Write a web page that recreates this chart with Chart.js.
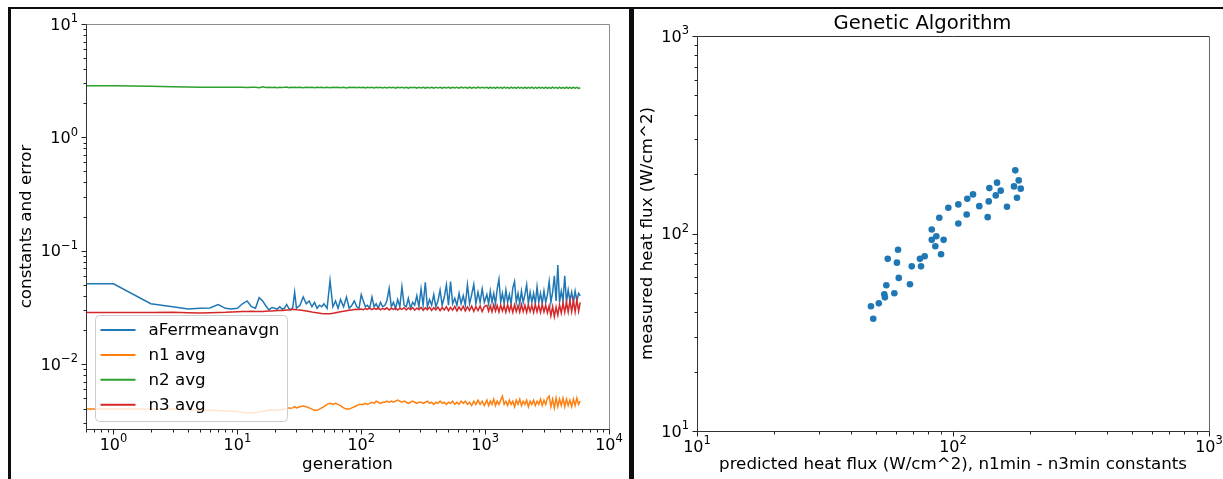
<!DOCTYPE html>
<html>
<head>
<meta charset="utf-8">
<script src="https://cdn.jsdelivr.net/npm/chart.js@4.4.1/dist/chart.umd.min.js"></script>
<style>
  body { margin: 0; background: #fff; }
  #page { position: relative; width: 1223px; height: 479px; overflow: hidden; background: #fff; }
  canvas { position: absolute; top: 0; }
  #leftChart { left: 0; }
  #rightChart { left: 634px; }
  .rule { position: absolute; background: #0b0d10; }
</style>
</head>
<body>
<div id="page">
  <canvas id="leftChart" width="629" height="479"></canvas>
  <canvas id="rightChart" width="589" height="479"></canvas>
  <div class="rule" style="left:8px; top:7px; width:1215px; height:2px"></div>
  <div class="rule" style="left:8px; top:7px; width:3px; height:472px"></div>
  <div class="rule" style="left:629px; top:7px; width:5px; height:472px"></div>
</div>
<script>
// generation axis (first entry stands in for generation 0, which a log axis can't show)
var gens = [0.5,
  1, 2, 3, 4, 5, 6, 7, 8, 9, 10,
  11, 12, 13, 14, 15, 16, 17, 18, 19, 20,
  21, 22, 23, 24, 25, 26, 27, 28, 29, 30,
  32, 34, 36, 38, 40, 42, 44, 46, 48, 50,
  53, 56, 59, 62, 65, 68, 72, 76, 80, 84,
  88, 92, 96, 100,
  104, 108, 112, 117, 122, 127, 132, 137, 143, 149,
  155, 161, 168, 175, 182, 189, 197, 205, 213, 222,
  231, 240, 250, 260, 270, 281, 292, 304, 316, 329,
  342, 356, 370, 385, 400, 416, 433, 450, 468, 487,
  506, 526, 547, 569, 592, 616, 640, 666, 692, 720,
  749, 779, 810, 842, 876, 911, 947, 985,
  1033, 1067, 1101, 1137, 1174, 1213, 1252, 1293, 1336, 1379,
  1424, 1471, 1519, 1569, 1620, 1673, 1728, 1784, 1843, 1903,
  1965, 2029, 2096, 2164, 2235, 2308, 2384, 2462, 2542, 2625,
  2711, 2800, 2891, 2986, 3083, 3184, 3288, 3396, 3507, 3621,
  3740, 3862, 3988, 4119, 4253, 4392, 4536, 4684, 4838, 4996,
  5159, 5328, 5502, 5682, 5860];

var aFerrMean = [0.051,
  0.051, 0.034, 0.032, 0.0305, 0.031, 0.0312, 0.0335, 0.031, 0.0305, 0.031,
  0.034, 0.036, 0.032, 0.031, 0.0385, 0.036, 0.0325, 0.030, 0.0315, 0.031,
  0.0305, 0.032, 0.0305, 0.031, 0.0335, 0.031, 0.030, 0.0315, 0.043, 0.031,
  0.033, 0.039, 0.034, 0.036, 0.032, 0.035, 0.031, 0.033, 0.032, 0.034,
  0.031, 0.0545, 0.032, 0.036, 0.031, 0.037, 0.032, 0.039, 0.031, 0.033,
  0.036, 0.032, 0.031, 0.041,
  0.036, 0.032, 0.033, 0.031, 0.039, 0.032, 0.034, 0.031, 0.035, 0.032,
  0.033, 0.036, 0.0465, 0.032, 0.035, 0.031, 0.037, 0.032, 0.048, 0.033,
  0.032, 0.038, 0.031, 0.035, 0.033, 0.040, 0.032, 0.046, 0.033, 0.0525,
  0.032, 0.037, 0.033, 0.041, 0.032, 0.036, 0.045, 0.033, 0.039, 0.050,
  0.033, 0.0535, 0.034, 0.038, 0.033, 0.042, 0.034, 0.040, 0.033, 0.050,
  0.034, 0.041, 0.0505, 0.034, 0.043, 0.035, 0.046, 0.035,
  0.041, 0.034, 0.044, 0.035, 0.042, 0.034, 0.046, 0.056, 0.035, 0.042,
  0.034, 0.045, 0.035, 0.041, 0.034, 0.047, 0.0535, 0.035, 0.042, 0.034,
  0.044, 0.035, 0.041, 0.050, 0.034, 0.043, 0.035, 0.042, 0.034, 0.048,
  0.035, 0.042, 0.034, 0.044, 0.035, 0.041, 0.0535, 0.035, 0.043, 0.060,
  0.036, 0.0746, 0.035, 0.044, 0.036, 0.060, 0.035, 0.045, 0.036, 0.043,
  0.035, 0.044, 0.036, 0.042, 0.040];

var n1Avg = [0.0040,
  0.0040, 0.0040, 0.0040, 0.00395, 0.0039, 0.0039, 0.00388, 0.00385, 0.00382, 0.0038,
  0.00376, 0.00372, 0.00371, 0.00374, 0.00378, 0.00382, 0.00386, 0.0039, 0.00392, 0.0039,
  0.00392, 0.00394, 0.00396, 0.0040, 0.00405, 0.0041, 0.00408, 0.0041, 0.0042, 0.0041,
  0.0042, 0.00425, 0.0042, 0.0041, 0.0040, 0.0039, 0.0039, 0.0040, 0.0041, 0.0042,
  0.0044, 0.0045, 0.0044, 0.0045, 0.0044, 0.0043, 0.0041, 0.0040, 0.0040, 0.0041,
  0.0042, 0.0043, 0.0044, 0.0044,
  0.0044, 0.0045, 0.0044, 0.0045, 0.0046, 0.0045, 0.0047, 0.0046, 0.0045, 0.0046,
  0.0046, 0.0047, 0.0046, 0.0047, 0.0046, 0.0047, 0.0048, 0.0047, 0.0046, 0.0047,
  0.0046, 0.0045, 0.0046, 0.0047, 0.0046, 0.0045, 0.0046, 0.0046, 0.0045, 0.0046,
  0.0047, 0.0045, 0.0046, 0.0044, 0.0046, 0.0045, 0.0047, 0.0045, 0.0046, 0.0044,
  0.0046, 0.0045, 0.0047, 0.0044, 0.0046, 0.0044, 0.0047, 0.0045, 0.0047, 0.0044,
  0.0046, 0.0043, 0.0047, 0.0044, 0.0048, 0.0044, 0.0047, 0.0043,
  0.0048, 0.0043, 0.0047, 0.0044, 0.0049, 0.0043, 0.0047, 0.0044, 0.0048, 0.0052,
  0.0044, 0.0047, 0.0043, 0.0048, 0.0044, 0.0047, 0.0042, 0.0048, 0.0044, 0.0049,
  0.0043, 0.0047, 0.0044, 0.0048, 0.0042, 0.0047, 0.0044, 0.0048, 0.0043, 0.0047,
  0.0044, 0.0049, 0.0043, 0.0048, 0.0044, 0.0050, 0.0052, 0.0042, 0.0049, 0.0041,
  0.0050, 0.0042, 0.0049, 0.0043, 0.0050, 0.0042, 0.0049, 0.0043, 0.0048, 0.0042,
  0.0049, 0.0043, 0.0050, 0.0044, 0.0047];

var n2Avg = [2.85,
  2.85, 2.83, 2.80, 2.78, 2.77, 2.77, 2.76, 2.76, 2.77, 2.76,
  2.76, 2.75, 2.76, 2.77, 2.74, 2.79, 2.75, 2.76, 2.75, 2.76,
  2.74, 2.77, 2.75, 2.76, 2.78, 2.74, 2.76, 2.75, 2.77, 2.75,
  2.76, 2.74, 2.77, 2.75, 2.76, 2.74, 2.77, 2.75, 2.76, 2.74,
  2.77, 2.74, 2.76, 2.75, 2.77, 2.74, 2.76, 2.73, 2.77, 2.75,
  2.76, 2.74, 2.77, 2.74,
  2.76, 2.73, 2.77, 2.74, 2.76, 2.73, 2.77, 2.74, 2.76, 2.73,
  2.77, 2.73, 2.76, 2.74, 2.77, 2.72, 2.76, 2.74, 2.77, 2.73,
  2.76, 2.72, 2.77, 2.74, 2.76, 2.72, 2.77, 2.73, 2.76, 2.72,
  2.77, 2.73, 2.76, 2.72, 2.77, 2.73, 2.76, 2.72, 2.77, 2.73,
  2.76, 2.72, 2.77, 2.73, 2.76, 2.71, 2.77, 2.73, 2.76, 2.72,
  2.77, 2.72, 2.76, 2.71, 2.77, 2.73, 2.76, 2.72,
  2.76, 2.71, 2.77, 2.72, 2.76, 2.71, 2.77, 2.72, 2.76, 2.71,
  2.77, 2.72, 2.76, 2.70, 2.77, 2.72, 2.76, 2.71, 2.77, 2.72,
  2.76, 2.70, 2.77, 2.71, 2.76, 2.72, 2.77, 2.70, 2.76, 2.71,
  2.77, 2.72, 2.76, 2.70, 2.77, 2.71, 2.76, 2.70, 2.77, 2.72,
  2.76, 2.70, 2.77, 2.71, 2.76, 2.70, 2.77, 2.71, 2.76, 2.70,
  2.77, 2.71, 2.76, 2.70, 2.74];

var n3Avg = [0.0285,
  0.0285, 0.0285, 0.0286, 0.0283, 0.0282, 0.0284, 0.0285, 0.0286, 0.0288, 0.0289,
  0.0290, 0.0291, 0.0292, 0.0291, 0.0290, 0.0291, 0.0292, 0.0293, 0.0294, 0.0295,
  0.0296, 0.0297, 0.0296, 0.0298, 0.0299, 0.0300, 0.0302, 0.0304, 0.0303, 0.0301,
  0.0299, 0.0296, 0.0293, 0.0290, 0.0287, 0.0285, 0.0283, 0.0281, 0.0279, 0.0278,
  0.0277, 0.0278, 0.0280, 0.0283, 0.0286, 0.0289, 0.0292, 0.0295, 0.0298, 0.0300,
  0.0302, 0.0304, 0.0303, 0.0306,
  0.0301, 0.0309, 0.0303, 0.0311, 0.0302, 0.0310, 0.0304, 0.0312, 0.0301, 0.0309,
  0.0303, 0.0313, 0.0300, 0.0310, 0.0304, 0.0312, 0.0299, 0.0311, 0.0303, 0.0314,
  0.0300, 0.0312, 0.0302, 0.0315, 0.0299, 0.0311, 0.0303, 0.0316, 0.0298, 0.0313,
  0.0302, 0.0317, 0.0297, 0.0314, 0.0301, 0.0318, 0.0296, 0.0315, 0.0300, 0.0320,
  0.0295, 0.0316, 0.0299, 0.0322, 0.0294, 0.0318, 0.0298, 0.0323, 0.0293, 0.0319,
  0.0297, 0.0324, 0.0292, 0.0320, 0.0296, 0.0325, 0.0291, 0.0321,
  0.0330, 0.0292, 0.0326, 0.0289, 0.0333, 0.0293, 0.0328, 0.0288, 0.0331, 0.0294,
  0.0327, 0.0287, 0.0334, 0.0292, 0.0329, 0.0286, 0.0332, 0.0291, 0.0328, 0.0287,
  0.0335, 0.0290, 0.0330, 0.0286, 0.0333, 0.0291, 0.0329, 0.0285, 0.0336, 0.0289,
  0.0331, 0.0285, 0.0334, 0.0288, 0.0330, 0.0283, 0.0326, 0.0266, 0.0322, 0.0262,
  0.0318, 0.0270, 0.0333, 0.0282, 0.0345, 0.0286, 0.0352, 0.0288, 0.0360, 0.0290,
  0.0365, 0.0289, 0.0370, 0.0292, 0.0350];

var legendNames = ['aFerrmeanavgn', 'n1 avg', 'n2 avg', 'n3 avg'];
var legendColors = ['#1f77b4', '#ff7f0e', '#2ca02c', '#d62728'];
var genTicks = [1, 10, 100, 1000, 10000];
var errTicks = [0.01, 0.1, 1, 10];

// scatter: predicted vs measured heat flux
var predictedFlux = [175.1, 180.6, 173.1, 183.9, 177.8, 162.5, 148.6, 138.7, 153.6, 146.9,
  137.9, 136.6, 126.7, 119.7, 113.7, 104.9, 113.1, 104.9, 95.9, 88.4,
  82.6, 86.1, 82.6, 91.9, 85.3, 89.8, 77.5, 74.3, 75.0, 69.0,
  67.9, 61.0, 55.6, 60.4, 61.4, 54.9, 59.0, 53.9, 54.2, 51.3,
  47.8, 48.8];
var measuredFlux = [208.9, 185.8, 173.2, 168.7, 151.8, 136.6, 180.9, 169.8, 164.8, 155.9,
  145.4, 121.0, 137.6, 157.8, 150.1, 140.4, 124.9, 112.4, 135.1, 120.2,
  104.8, 96.9, 92.9, 92.9, 86.2, 78.5, 76.7, 74.4, 68.2, 68.2,
  55.3, 82.7, 74.4, 71.2, 59.6, 54.7, 49.8, 49.2, 47.5, 44.3,
  42.8, 37.0];
var fluxTicks = [10, 100, 1000];

var minorSteps = [2, 3, 4, 5, 6, 7, 8, 9];

Chart.defaults.font.family = "'DejaVu Sans', sans-serif";
Chart.defaults.color = '#000';
Chart.defaults.animation = false;

function pairs(xs, ys) {
  return xs.map(function(x, i) { return {x: x, y: ys[i]}; });
}

// "10" with a raised exponent, like matplotlib's log tick labels
function drawPow(ctx, v, x, y, anchor) {
  var e = String(Math.round(Math.log10(v))).replace('-', '\u2212');
  ctx.font = "16px 'DejaVu Sans'";
  var wb = ctx.measureText('10').width;
  ctx.font = "11.5px 'DejaVu Sans'";
  var we = ctx.measureText(e).width;
  var x0 = anchor === 'center' ? x - (wb + we) / 2 : x - (wb + we);
  ctx.font = "16px 'DejaVu Sans'";
  ctx.fillText('10', x0, y);
  ctx.font = "11.5px 'DejaVu Sans'";
  ctx.fillText(e, x0 + wb, y - 7.5);
}

// frame, major/minor tick marks and tick labels
var frameTicks = {
  id: 'frame',
  afterDraw: function(chart, args, opts) {
    var ctx = chart.ctx, a = chart.chartArea;
    var l = Math.round(a.left) + 0.5, r = Math.round(a.right) + 0.5;
    var t = Math.round(a.top) + 0.5, b = Math.round(a.bottom) + 0.5;
    ctx.save();
    ctx.lineWidth = 1;
    function seg(c, x1, y1, x2, y2) {
      ctx.strokeStyle = c;
      ctx.beginPath(); ctx.moveTo(x1, y1); ctx.lineTo(x2, y2); ctx.stroke();
    }
    seg(opts.top, l, t, r, t);
    seg(opts.right, r, t, r, b);
    seg(opts.left, l, t, l, b);
    seg(opts.bottom, l, b, r, b);
    ctx.fillStyle = '#000';
    ctx.textBaseline = 'alphabetic';
    ctx.textAlign = 'left';
    ['x', 'y'].forEach(function(id) {
      var s = chart.scales[id];
      var d0 = Math.floor(Math.log10(s.min)), d1 = Math.ceil(Math.log10(s.max));
      for (var d = d0; d <= d1; d++) {
        [1].concat(minorSteps).forEach(function(m) {
          var v = m * Math.pow(10, d);
          if (v < s.min * 0.999 || v > s.max * 1.001) return;
          var len = m === 1 ? 5 : 3;
          var p = Math.round(s.getPixelForValue(v)) + 0.5;
          if (id === 'x') seg('#222', p, b, p, b + len);
          else seg('#222', l - len, p, l, p);
        });
      }
      s.ticks.forEach(function(tk) {
        var p = s.getPixelForValue(tk.value);
        if (id === 'x') drawPow(ctx, tk.value, p, a.bottom + 20.5, 'center');
        else drawPow(ctx, tk.value, a.left - 8, p + 5.7, 'right');
      });
    });
    ctx.restore();
  }
};

var boxLegend = {
  id: 'boxLegend',
  afterDraw: function(chart) {
    var ctx = chart.ctx, a = chart.chartArea;
    var w = 192, h = 106;
    var x = Math.round(a.left) + 9.5, y = Math.round(a.bottom) - 8 - h + 0.5;
    ctx.save();
    ctx.beginPath();
    ctx.roundRect(x, y, w, h, 4);
    ctx.fillStyle = 'rgba(255,255,255,0.8)';
    ctx.fill();
    ctx.strokeStyle = '#cccccc';
    ctx.lineWidth = 1;
    ctx.stroke();
    ctx.font = "16.7px 'DejaVu Sans'";
    ctx.textBaseline = 'middle';
    legendNames.forEach(function(name, i) {
      var cy = y + 14.5 + i * 24.9;
      ctx.strokeStyle = legendColors[i];
      ctx.lineWidth = 2;
      ctx.beginPath(); ctx.moveTo(x + 5, cy); ctx.lineTo(x + 40, cy); ctx.stroke();
      ctx.fillStyle = '#000';
      ctx.fillText(name, x + 53, cy + 1);
    });
    ctx.restore();
  }
};

function logAxis(min, max, majors, size, titleText, titlePad) {
  return {
    type: 'logarithmic',
    min: min,
    max: max,
    grid: {display: false},
    border: {display: false},
    afterBuildTicks: function(s) { s.ticks = majors.map(function(v) { return {value: v}; }); },
    afterFit: function(s) {
      if (s.isHorizontal()) s.height = size; else s.width = size;
    },
    ticks: {display: false},
    title: {display: true, text: titleText, font: {size: 16.7}, padding: titlePad}
  };
}

new Chart(document.getElementById('leftChart'), {
  type: 'line',
  data: {
    datasets: [
      {label: 'n3 avg', data: pairs(gens, n3Avg), borderColor: '#d62728'},
      {label: 'n2 avg', data: pairs(gens, n2Avg), borderColor: '#2ca02c'},
      {label: 'n1 avg', data: pairs(gens, n1Avg), borderColor: '#ff7f0e'},
      {label: 'aFerrmeanavgn', data: pairs(gens, aFerrMean), borderColor: '#1f77b4'}
    ]
  },
  options: {
    responsive: false,
    devicePixelRatio: 1,
    layout: {padding: {left: 14, top: 24, right: 20, bottom: 0}},
    elements: {point: {radius: 0}, line: {borderWidth: 1.5, tension: 0}},
    plugins: {
      legend: {display: false},
      tooltip: {enabled: false},
      frame: {top: '#8c8c8c', right: '#8c8c8c', left: '#333', bottom: '#333'}
    },
    scales: {
      x: logAxis(0.64, 10000, genTicks, 50, 'generation', {top: 0, bottom: 4}),
      y: logAxis(0.00267, 10, errTicks, 72, 'constants and error', {top: 3, bottom: 0})
    }
  },
  plugins: [frameTicks, boxLegend]
});

new Chart(document.getElementById('rightChart'), {
  type: 'scatter',
  data: {
    datasets: [{
      label: 'measured heat flux',
      data: pairs(predictedFlux, measuredFlux),
      backgroundColor: '#1f77b4',
      borderWidth: 0,
      pointRadius: 3.3
    }]
  },
  options: {
    responsive: false,
    devicePixelRatio: 1,
    layout: {padding: {left: 2, top: 0, right: 14, bottom: 0}},
    plugins: {
      legend: {display: false},
      tooltip: {enabled: false},
      title: {display: true, text: 'Genetic Algorithm', color: '#000',
        font: {size: 19.6, weight: 'normal'}, padding: {top: 12, bottom: 0.5}},
      frame: {top: '#333', right: '#666', left: '#333', bottom: '#333'}
    },
    scales: {
      x: logAxis(10, 1000, fluxTicks, 48, 'predicted heat flux (W/cm^2), n1min - n3min constants', {top: 0, bottom: 4}),
      y: logAxis(10, 1000, fluxTicks, 61, 'measured heat flux (W/cm^2)', {top: 2, bottom: 0})
    }
  },
  plugins: [frameTicks]
});
</script>
</body>
</html>
